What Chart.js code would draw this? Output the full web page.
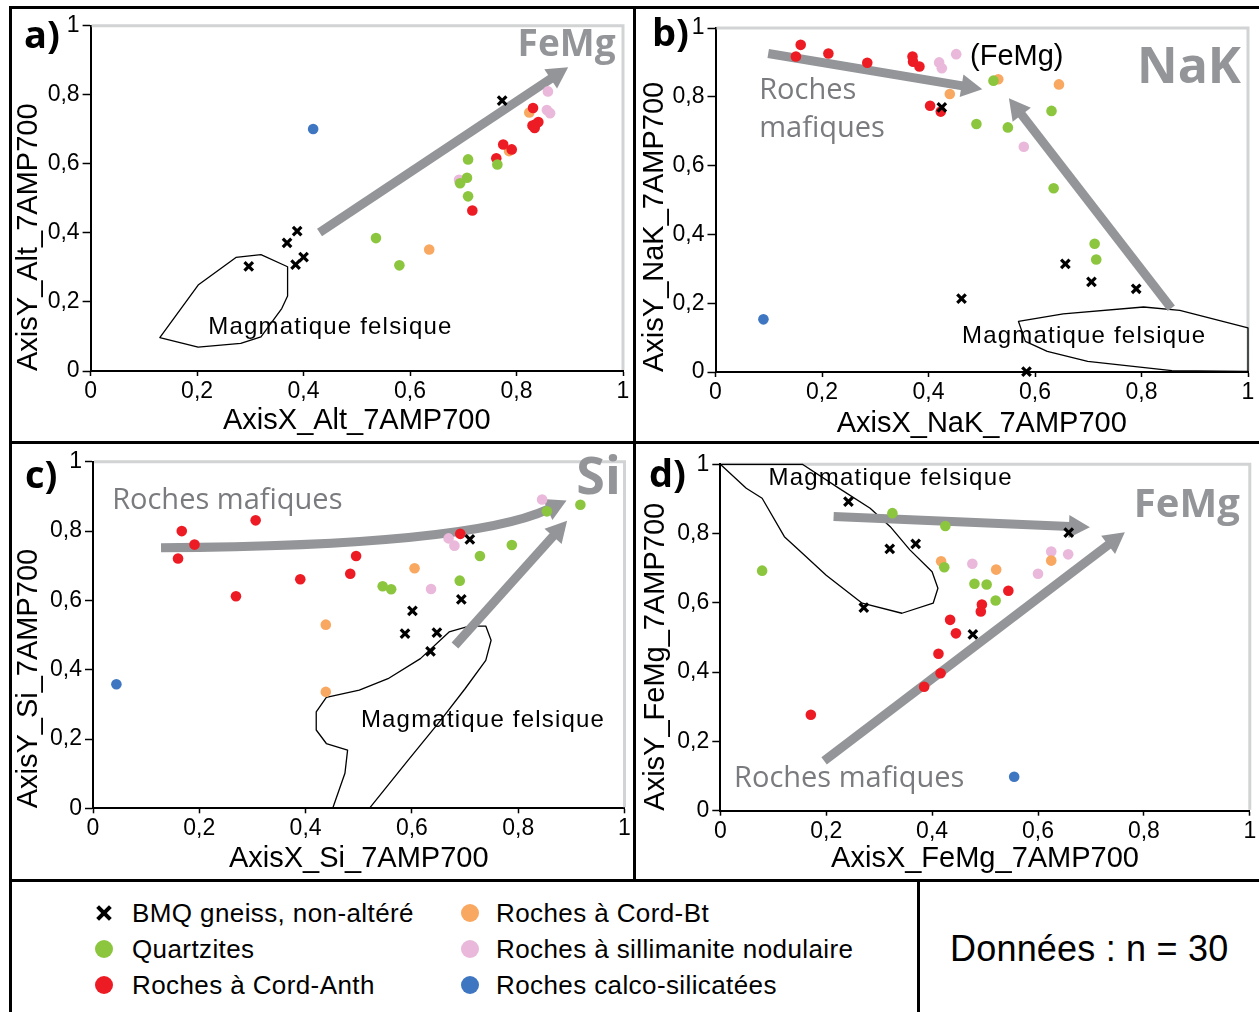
<!DOCTYPE html>
<html>
<head>
<meta charset="utf-8">
<script src="https://cdn.jsdelivr.net/npm/chart.js@4.4.1/dist/chart.umd.min.js"></script>
<style>
  html, body { margin: 0; padding: 0; background: #fff; }
  body { width: 1259px; height: 1012px; position: relative; overflow: hidden;
         font-family: 'Liberation Sans', Arial, sans-serif; }
  canvas { position: absolute; }
  .rule { position: absolute; background: #000; z-index: 5; }
  .tag { position: absolute; font: 700 38px 'Open Sans', sans-serif; line-height: 40px; color: #000; z-index: 6; }
  .leg { position: absolute; font-size: 26px; line-height: 30px; color: #000; white-space: nowrap; letter-spacing: 0.4px; }
  .dot { position: absolute; width: 18px; height: 18px; border-radius: 50%; }
  .cross { position: absolute; width: 16px; height: 16px; }
  .cross i { position: absolute; left: -1px; top: 6px; width: 18px; height: 4px; background: #000; }
  .cross i:first-child { transform: rotate(45deg); }
  .cross i:last-child { transform: rotate(-45deg); }
  #count { position: absolute; left: 950px; top: 928px; font-size: 36px; line-height: 42px; white-space: nowrap; letter-spacing: 0.2px; }
</style>
</head>
<body>
<canvas id="chartA" width="622" height="434" style="left:12px;top:9px"></canvas>
<canvas id="chartB" width="623" height="434" style="left:636px;top:9px"></canvas>
<canvas id="chartC" width="622" height="436" style="left:12px;top:445px"></canvas>
<canvas id="chartD" width="623" height="436" style="left:636px;top:445px"></canvas>

<div class="rule" style="left:9px;top:6px;width:1250px;height:3px"></div>
<div class="rule" style="left:9px;top:6px;width:3px;height:1006px"></div>
<div class="rule" style="left:633px;top:6px;width:3px;height:875px"></div>
<div class="rule" style="left:9px;top:441px;width:1250px;height:3px"></div>
<div class="rule" style="left:9px;top:879px;width:1250px;height:3px"></div>
<div class="rule" style="left:917px;top:879px;width:3px;height:133px"></div>

<div class="tag" style="left:24px;top:13px">a)</div>
<div class="tag" style="left:652px;top:11px">b)</div>
<div class="tag" style="left:25px;top:453px">c)</div>
<div class="tag" style="left:649px;top:452px">d)</div>

<div id="legend"></div>
<div id="count">Données : n = 30</div>

<script>
// ---- Series (same order in every panel) ----
const seriesNames = [
  'BMQ gneiss, non-altéré',
  'Quartzites',
  'Roches à Cord-Anth',
  'Roches à Cord-Bt',
  'Roches à sillimanite nodulaire',
  'Roches calco-silicatées'
];
const seriesColors = ['#000000', '#8cc63f', '#ed1c24', '#f9a861', '#e9b8da', '#3f76c1'];

// ---- a) Alt ----
const aBMQ        = [[0.297,0.303],[0.369,0.371],[0.388,0.405],[0.385,0.308],[0.400,0.330],[0.773,0.783]];
const aQuartzites = [[0.536,0.385],[0.580,0.306],[0.709,0.613],[0.707,0.560],[0.694,0.544],[0.709,0.506],[0.764,0.598]];
const aCordAnth   = [[0.717,0.465],[0.762,0.616],[0.775,0.656],[0.791,0.642],[0.831,0.762],[0.841,0.721],[0.830,0.711],[0.834,0.704],[0.836,0.715]];
const aCordBt     = [[0.636,0.352],[0.786,0.637],[0.824,0.749]];
const aSill       = [[0.692,0.554],[0.859,0.810],[0.857,0.756],[0.863,0.747]];
const aCalco      = [[0.418,0.701]];

// ---- b) NaK ----
const bBMQ        = [[0.425,0.769],[0.462,0.213],[0.657,0.314],[0.706,0.262],[0.790,0.242],[0.584,0.001]];
const bQuartzites = [[0.522,0.847],[0.490,0.721],[0.549,0.711],[0.631,0.759],[0.635,0.534],[0.712,0.373],[0.715,0.327]];
const bCordAnth   = [[0.160,0.951],[0.151,0.917],[0.212,0.926],[0.285,0.899],[0.370,0.917],[0.371,0.902],[0.383,0.888],[0.403,0.774],[0.423,0.757]];
const bCordBt     = [[0.440,0.808],[0.531,0.851],[0.645,0.836]];
const bSill       = [[0.452,0.924],[0.420,0.900],[0.425,0.883],[0.579,0.655]];
const bCalco      = [[0.090,0.153]];

// ---- c) Si ----
const cBMQ        = [[0.709,0.776],[0.693,0.603],[0.601,0.570],[0.587,0.504],[0.647,0.507],[0.635,0.453]];
const cQuartzites = [[0.854,0.857],[0.917,0.876],[0.788,0.760],[0.728,0.728],[0.690,0.657],[0.545,0.641],[0.561,0.632]];
const cCordAnth   = [[0.167,0.800],[0.191,0.761],[0.160,0.721],[0.306,0.831],[0.269,0.612],[0.390,0.661],[0.484,0.677],[0.495,0.728],[0.691,0.792]];
const cCordBt     = [[0.438,0.530],[0.438,0.336],[0.605,0.693]];
const cSill       = [[0.845,0.891],[0.669,0.779],[0.680,0.758],[0.636,0.633]];
const cCalco      = [[0.044,0.358]];

// ---- d) FeMg ----
const dBMQ        = [[0.242,0.892],[0.320,0.756],[0.369,0.770],[0.271,0.586],[0.477,0.509],[0.658,0.803]];
const dQuartzites = [[0.079,0.693],[0.325,0.859],[0.425,0.822],[0.423,0.703],[0.480,0.655],[0.503,0.653],[0.520,0.607]];
const dCordAnth   = [[0.171,0.277],[0.544,0.635],[0.494,0.595],[0.492,0.575],[0.434,0.551],[0.445,0.512],[0.412,0.453],[0.416,0.397],[0.385,0.358]];
const dCordBt     = [[0.417,0.720],[0.521,0.696],[0.625,0.722]];
const dSill       = [[0.476,0.713],[0.600,0.684],[0.625,0.748],[0.657,0.740]];
const dCalco      = [[0.555,0.098]];

// ---- Felsic magmatic fields (outlines, in axis units) ----
const felsicA = [[0.130,0.097],[0.202,0.069],[0.282,0.080],[0.320,0.099],[0.359,0.181],[0.370,0.217],[0.370,0.302],[0.320,0.337],[0.273,0.329],[0.202,0.249]];
const felsicB = [[0.569,0.147],[0.653,0.169],[0.804,0.189],[0.872,0.179],[1.000,0.128],[1.000,0.002],[0.857,0.004],[0.699,0.031],[0.623,0.060],[0.582,0.089]];
const felsicC = [[0.451,0.000],[0.474,0.101],[0.479,0.168],[0.439,0.187],[0.420,0.226],[0.420,0.278],[0.439,0.320],[0.501,0.341],[0.555,0.374],[0.616,0.432],[0.670,0.509],[0.708,0.526],[0.739,0.526],[0.749,0.485],[0.739,0.427],[0.700,0.345],[0.654,0.254],[0.593,0.139],[0.520,0.000]];
const felsicD = [[0.000,1.000],[0.049,0.931],[0.079,0.902],[0.121,0.791],[0.155,0.743],[0.200,0.680],[0.268,0.599],[0.343,0.570],[0.402,0.599],[0.411,0.642],[0.400,0.690],[0.358,0.753],[0.321,0.820],[0.283,0.873],[0.223,0.932],[0.155,1.000]];

// ---- Trend arrows: [tail, tip] ----
const trendA = [[[0.430,0.401],[0.897,0.880]]];
const trendB = [[[0.099,0.926],[0.501,0.822]], [[0.856,0.185],[0.551,0.796]]];
const trendC = [[[0.681,0.470],[0.892,0.830]]];
const curveC = [[0.128,0.752],[0.709,0.758],[0.891,0.888]];   // start, control, tip
const trendD = [[[0.214,0.849],[0.698,0.818]], [[0.196,0.144],[0.764,0.804]]];

const ARROW_GREY = '#939598';
const NOTE_GREY = '#7a7b7e';
const felsicFont = '24px "Liberation Sans", Arial, sans-serif';
const mafFont = '29px "Open Sans", sans-serif';

function decimalComma(v) {
  if (v === 0 || v === 1) return String(v);
  return v.toFixed(1).replace('.', ',');
}

function arrowHead(ctx, bx, by, ux, uy, L, W) {
  ctx.beginPath();
  ctx.moveTo(bx + ux * L, by + uy * L);
  ctx.lineTo(bx - uy * W / 2, by + ux * W / 2);
  ctx.lineTo(bx + uy * W / 2, by - ux * W / 2);
  ctx.closePath();
  ctx.fill();
}

const overlayPlugin = {
  id: 'overlays',
  beforeDatasetsDraw(chart, args, opts) {
    const { ctx, chartArea: ca, scales: { x, y } } = chart;
    const P = (p) => [x.getPixelForValue(p[0]), y.getPixelForValue(p[1])];
    ctx.save();

    // light frame on the top and right sides of the plot area
    ctx.strokeStyle = '#d1d3d4';
    ctx.lineWidth = 3;
    ctx.beginPath();
    ctx.moveTo(ca.left + 1, ca.top);
    ctx.lineTo(ca.right, ca.top);
    ctx.lineTo(ca.right, ca.bottom - 1);
    ctx.stroke();

    // felsic magmatic field
    if (opts.outline) {
      ctx.strokeStyle = '#000';
      ctx.lineWidth = 1.3;
      ctx.lineJoin = 'round';
      ctx.beginPath();
      opts.outline.forEach((p, i) => { const [px, py] = P(p); i ? ctx.lineTo(px, py) : ctx.moveTo(px, py); });
      if (opts.closed) ctx.closePath();
      ctx.stroke();
    }

    // texts
    (opts.texts || []).forEach(t => {
      const [px, py] = P(t.at);
      ctx.font = t.font;
      ctx.fillStyle = t.color || '#000';
      ctx.textAlign = t.align || 'left';
      ctx.textBaseline = 'alphabetic';
      if ('letterSpacing' in ctx) ctx.letterSpacing = (t.spacing || 0) + 'px';
      ctx.fillText(t.text, px, py);
      if ('letterSpacing' in ctx) ctx.letterSpacing = '0px';
    });

    // straight arrows
    const SW = 9, HL = 21, HW = 23;
    ctx.fillStyle = ARROW_GREY;
    ctx.strokeStyle = ARROW_GREY;
    ctx.lineCap = 'butt';
    (opts.arrows || []).forEach(([a, b]) => {
      const [x0, y0] = P(a), [x1, y1] = P(b);
      const len = Math.hypot(x1 - x0, y1 - y0), ux = (x1 - x0) / len, uy = (y1 - y0) / len;
      const bx = x1 - ux * HL, by = y1 - uy * HL;
      ctx.lineWidth = SW;
      ctx.beginPath(); ctx.moveTo(x0, y0); ctx.lineTo(bx + ux, by + uy); ctx.stroke();
      arrowHead(ctx, bx, by, ux, uy, HL, HW);
    });

    // curved arrow
    if (opts.curve) {
      const [s, c, t] = opts.curve.map(P);
      const len = Math.hypot(t[0] - c[0], t[1] - c[1]), ux = (t[0] - c[0]) / len, uy = (t[1] - c[1]) / len;
      const bx = t[0] - ux * HL, by = t[1] - uy * HL;
      ctx.lineWidth = SW;
      ctx.beginPath(); ctx.moveTo(s[0], s[1]); ctx.quadraticCurveTo(c[0], c[1], bx + ux, by + uy); ctx.stroke();
      arrowHead(ctx, bx, by, ux, uy, HL, HW);
    }
    ctx.restore();
  }
};

const tickFont = { family: '"Liberation Sans", Arial, sans-serif', size: 23 };
const titleFont = { family: '"Liberation Sans", Arial, sans-serif', size: 29 };

function buildPanel(id, series, cfg) {
  const datasets = series.map((pts, i) => ({
    label: seriesNames[i],
    data: pts.map(([x, y]) => ({ x, y })),
    pointStyle: i === 0 ? 'crossRot' : 'circle',
    pointRadius: i === 0 ? 6 : 5.3,
    borderWidth: i === 0 ? 3.2 : 0,
    borderColor: seriesColors[i],
    backgroundColor: seriesColors[i],
    clip: false
  }));
  return new Chart(document.getElementById(id), {
    type: 'scatter',
    data: { datasets },
    options: {
      responsive: false,
      animation: false,
      events: [],
      layout: { padding: { top: cfg.pad[0], right: cfg.pad[1], bottom: 0, left: 0 } },
      plugins: { legend: { display: false }, tooltip: { enabled: false }, overlays: cfg.overlays },
      scales: {
        x: {
          type: 'linear', min: 0, max: 1,
          ticks: { stepSize: 0.2, callback: decimalComma, font: tickFont, color: '#000', padding: 2, maxRotation: 0 },
          grid: { drawOnChartArea: false, tickLength: 5, tickWidth: 1.5, tickColor: '#000' },
          border: { color: '#000', width: 2 },
          title: { display: true, text: cfg.xTitle, font: titleFont, color: '#000', padding: { top: 0, bottom: cfg.xtp } },
          afterFit: s => { s.height = cfg.xh; }
        },
        y: {
          type: 'linear', min: 0, max: 1,
          ticks: { stepSize: 0.2, callback: decimalComma, font: tickFont, color: '#000', padding: 3 },
          grid: { drawOnChartArea: false, tickLength: 8, tickWidth: 1.5, tickColor: '#000' },
          border: { color: '#000', width: 2 },
          title: { display: true, text: cfg.yTitle, font: titleFont, color: '#000', align: 'start', padding: { top: cfg.ytp, bottom: 0 } },
          afterFit: s => { s.width = cfg.yw; }
        }
      }
    },
    plugins: [overlayPlugin]
  });
}

buildPanel('chartA', [aBMQ, aQuartzites, aCordAnth, aCordBt, aSill, aCalco], {
  pad: [16, 11], xh: 72, yw: 78.6, xtp: 5, ytp: 0,
  xTitle: 'AxisX_Alt_7AMP700', yTitle: 'AxisY_Alt_7AMP700',
  overlays: {
    outline: felsicA, closed: true, arrows: trendA,
    texts: [
      { text: 'Magmatique felsique', at: [0.221, 0.108], font: felsicFont, spacing: 1.2 },
      { text: 'FeMg', at: [0.986, 0.913], font: '700 37px "Open Sans", sans-serif', color: ARROW_GREY, align: 'right' }
    ]
  }
});

buildPanel('chartB', [bBMQ, bQuartzites, bCordAnth, bCordBt, bSill, bCalco], {
  pad: [19, 11], xh: 71, yw: 79.5, xtp: 2, ytp: 2,
  xTitle: 'AxisX_NaK_7AMP700', yTitle: 'AxisY_NaK_7AMP700',
  overlays: {
    outline: felsicB, closed: true, arrows: trendB,
    texts: [
      { text: 'Magmatique felsique', at: [0.463, 0.084], font: felsicFont, spacing: 1.2 },
      { text: 'NaK', at: [0.987, 0.840], font: '700 50px "Open Sans", sans-serif', color: ARROW_GREY, align: 'right' },
      { text: '(FeMg)', at: [0.478, 0.892], font: '29px "Liberation Sans", Arial, sans-serif' },
      { text: 'Roches', at: [0.082, 0.794], font: mafFont, color: NOTE_GREY },
      { text: 'mafiques', at: [0.082, 0.684], font: mafFont, color: NOTE_GREY }
    ]
  }
});

buildPanel('chartC', [cBMQ, cQuartzites, cCordAnth, cCordBt, cSill, cCalco], {
  pad: [16, 9.5], xh: 72.7, yw: 81, xtp: 5, ytp: 0,
  xTitle: 'AxisX_Si_7AMP700', yTitle: 'AxisY_Si_7AMP700',
  overlays: {
    outline: felsicC, closed: false, arrows: trendC, curve: curveC,
    texts: [
      { text: 'Magmatique felsique', at: [0.504, 0.235], font: felsicFont, spacing: 1.2 },
      { text: 'Si', at: [0.993, 0.908], font: '700 52px "Open Sans", sans-serif', color: ARROW_GREY, align: 'right' },
      { text: 'Roches mafiques', at: [0.036, 0.864], font: mafFont, color: NOTE_GREY }
    ]
  }
});

buildPanel('chartD', [dBMQ, dQuartzites, dCordAnth, dCordBt, dSill, dCalco], {
  pad: [19.3, 7.3], xh: 70.3, yw: 84.3, xtp: 5, ytp: 3,
  xTitle: 'AxisX_FeMg_7AMP700', yTitle: 'AxisY_FeMg_7AMP700',
  overlays: {
    outline: felsicD, closed: true, arrows: trendD,
    texts: [
      { text: 'Magmatique felsique', at: [0.091, 0.940], font: felsicFont, spacing: 1.2 },
      { text: 'FeMg', at: [0.981, 0.849], font: '700 40px "Open Sans", sans-serif', color: ARROW_GREY, align: 'right' },
      { text: 'Roches mafiques', at: [0.026, 0.069], font: mafFont, color: NOTE_GREY }
    ]
  }
});

// ---- shared legend ----
const legend = document.getElementById('legend');
const colMarkX = [104, 470], colTextX = [132, 496], rowY = [913, 949, 985];
seriesNames.forEach((name, i) => {
  const col = Math.floor(i / 3), row = i % 3;
  let mark;
  if (i === 0) {
    mark = document.createElement('div');
    mark.className = 'cross';
    mark.innerHTML = '<i></i><i></i>';
    mark.style.left = (colMarkX[col] - 8) + 'px';
    mark.style.top = (rowY[row] - 8) + 'px';
  } else {
    mark = document.createElement('div');
    mark.className = 'dot';
    mark.style.background = seriesColors[i];
    mark.style.left = (colMarkX[col] - 9) + 'px';
    mark.style.top = (rowY[row] - 9) + 'px';
  }
  legend.appendChild(mark);
  const label = document.createElement('div');
  label.className = 'leg';
  label.textContent = name;
  label.style.left = colTextX[col] + 'px';
  label.style.top = (rowY[row] - 15) + 'px';
  legend.appendChild(label);
});
</script>
</body>
</html>
